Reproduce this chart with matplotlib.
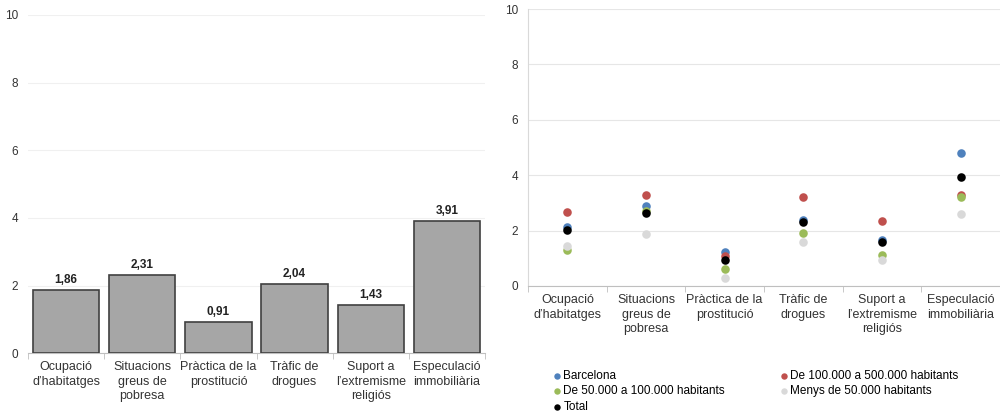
import numpy as np
import matplotlib.pyplot as plt

plt.rcParams['font.family'] = ['Liberation Sans', 'DejaVu Sans']

# --- Data ---
categories = ['Ocupació\nd’habitatges', 'Situacions\ngreus de\npobresa', 'Pràctica de la\nprostitució',
              'Tràfic de\ndrogues', 'Suport a\nl’extremisme\nreligiós', 'Especulació\nimmobiliària']
bar_values = [1.86, 2.31, 0.91, 2.04, 1.43, 3.91]
bar_labels = ['1,86', '2,31', '0,91', '2,04', '1,43', '3,91']

series_names = ['Barcelona', 'De 100.000 a 500.000 habitants', 'De 50.000 a 100.000 habitants',
                'Menys de 50.000 habitants', 'Total']
barcelona = [2.13, 2.88, 1.23, 2.37, 1.67, 4.80]
de_100_500 = [2.67, 3.29, 1.07, 3.22, 2.34, 3.30]
de_50_100 = [1.29, 2.70, 0.61, 1.93, 1.11, 3.22]
menys_50 = [1.43, 1.89, 0.30, 1.58, 0.94, 2.61]
total = [2.01, 2.65, 0.95, 2.30, 1.59, 3.93]
series_values = [barcelona, de_100_500, de_50_100, menys_50, total]
series_colors = ['#4f81bd', '#c0504d', '#9bbb59', '#d9d9d9', '#000000']

yticks = [0, 2, 4, 6, 8, 10]
x = np.arange(len(categories))

fig = plt.figure(figsize=(10, 4.15), dpi=100)

# --- Left panel: bars ---
ax1 = fig.add_axes([0.028, 0.149, 0.457, 0.815])
ax1.bar(x, bar_values, 0.87, color='#a6a6a6', edgecolor='#404040', linewidth=1.2, zorder=3)
for xi, v, lab in zip(x, bar_values, bar_labels):
    ax1.text(xi, v + 0.12, lab, ha='center', va='bottom', fontsize=8.5, fontweight='bold', color='#222222')
ax1.set_xlim(-0.5, 5.5)
ax1.set_ylim(0, 10)
ax1.set_yticks(yticks)
ax1.set_xticks(x)
ax1.set_xticklabels(categories, fontsize=9, color='#333333', linespacing=1.25)
ax1.tick_params(axis='x', length=0, pad=6)
ax1.tick_params(axis='y', length=0, labelsize=8.5, labelcolor='#333333', pad=7)
ax1.set_xticks(np.arange(-0.5, 6, 1), minor=True)
ax1.tick_params(axis='x', which='minor', length=4, color='#bfbfbf')
ax1.grid(axis='y', color='#f0f0f0', linewidth=0.8, zorder=0)
for s in ['top', 'right', 'left']:
    ax1.spines[s].set_visible(False)
ax1.spines['bottom'].set_color('#bfbfbf')

# --- Right panel: dots ---
ax2 = fig.add_axes([0.528, 0.311, 0.472, 0.667])
for name, vals, col in zip(series_names, series_values, series_colors):
    ax2.scatter(x, vals, s=38, color=col, label=name, zorder=3, linewidths=0)
ax2.set_xlim(-0.5, 5.5)
ax2.set_ylim(0, 10)
ax2.set_yticks(yticks)
ax2.set_xticks(x)
ax2.set_xticklabels(categories, fontsize=9, color='#333333', linespacing=1.25)
ax2.tick_params(axis='x', length=0, pad=6)
ax2.tick_params(axis='y', length=0, labelsize=8.5, labelcolor='#333333', pad=7)
ax2.set_xticks(np.arange(-0.5, 6, 1), minor=True)
ax2.tick_params(axis='x', which='minor', length=4, color='#bfbfbf')
ax2.grid(axis='y', color='#e6e6e6', linewidth=0.8, zorder=0)
for s in ['top', 'right']:
    ax2.spines[s].set_visible(False)
ax2.spines['bottom'].set_color('#bfbfbf')
ax2.spines['left'].set_color('#d9d9d9')

# legend: column 1 Barcelona / green / Total, column 2 red / gray
handles, labels = ax2.get_legend_handles_labels()
order = [0, 2, 4, 1, 3]
fig.legend([handles[i] for i in order], [labels[i] for i in order],
           loc='upper left', bbox_to_anchor=(0.548, 0.12), ncol=2, frameon=False,
           fontsize=8.5, handletextpad=0.1, markerscale=0.75, labelspacing=0.3,
           columnspacing=4.6, borderaxespad=0, handlelength=0.8)

fig.savefig('out.png', dpi=100)
